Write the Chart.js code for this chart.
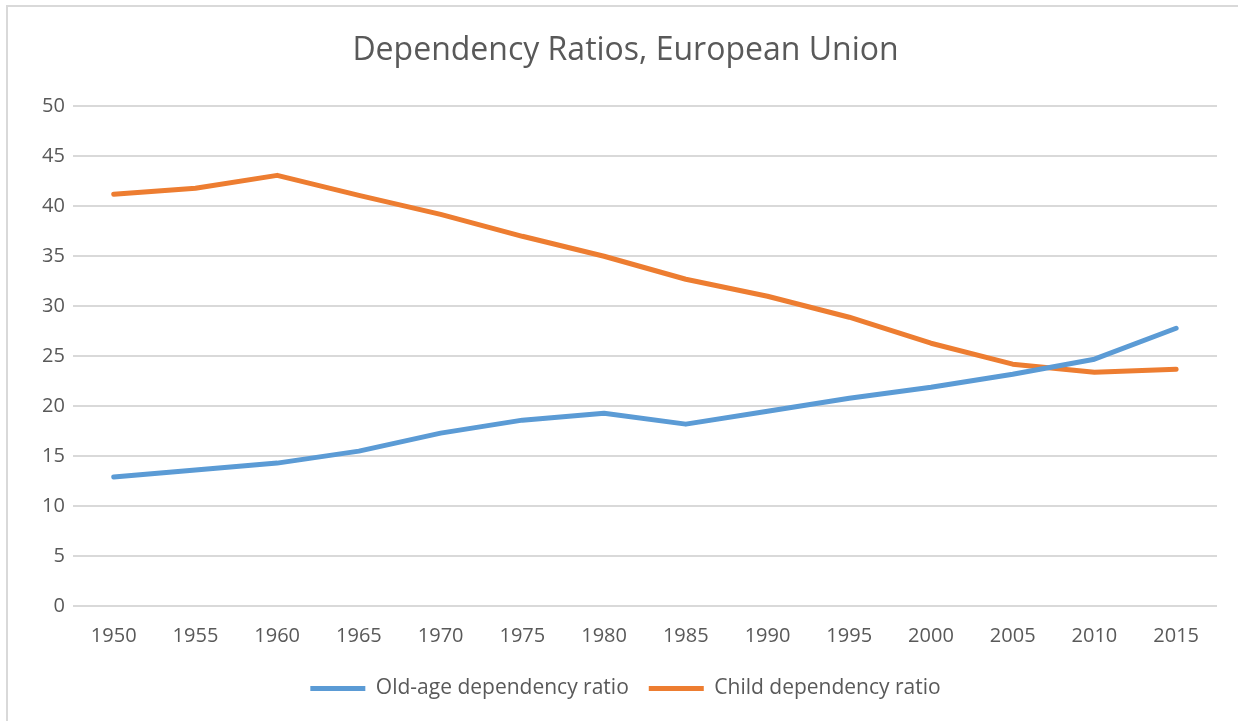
<!DOCTYPE html>
<html>
<head>
<meta charset="utf-8">
<script src="https://cdn.jsdelivr.net/npm/chart.js@4"></script>
<style>
  html, body { margin: 0; padding: 0; background: #fff; }
  #wrap { width: 1238px; height: 721px; }
</style>
</head>
<body>
<div id="wrap"><canvas id="myChart" width="1238" height="721"></canvas></div>
<script>
// years on the category axis
var years = ['1950', '1955', '1960', '1965', '1970', '1975', '1980', '1985', '1990', '1995', '2000', '2005', '2010', '2015'];
// old-age dependency ratio (%)
var oldAge = [12.9, 13.6, 14.3, 15.5, 17.3, 18.6, 19.3, 18.2, 19.5, 20.8, 21.9, 23.2, 24.7, 27.8];
// child dependency ratio (%)
var child = [41.2, 41.8, 43.1, 41.1, 39.2, 37.0, 35.0, 32.7, 31.0, 28.9, 26.3, 24.2, 23.4, 23.7];
var yTicks = [0, 5, 10, 15, 20, 25, 30, 35, 40, 45, 50];

var textColor = '#595959';
var gridColor = '#d9d9d9';

// light frame round the whole chart, like the spreadsheet export
var framePlugin = {
    id: 'frame',
    beforeDraw: function (chart) {
        var c = chart.ctx;
        c.save();
        c.fillStyle = '#fff';
        c.fillRect(0, 0, chart.width, chart.height);
        c.strokeStyle = gridColor;
        c.lineWidth = 2;
        c.strokeRect(7, 6, chart.width + 20, chart.height + 20);
        c.restore();
    }
};

var ctx = document.getElementById('myChart').getContext('2d');
var myChart = new Chart(ctx, {
    type: 'line',
    data: {
        labels: years,
        datasets: [{
            label: 'Old-age dependency ratio',
            data: oldAge,
            borderColor: '#5B9BD5',
            backgroundColor: '#5B9BD5',
            borderWidth: 5,
            borderCapStyle: 'round',
            borderJoinStyle: 'round',
            pointRadius: 0,
            fill: false,
            tension: 0
        }, {
            label: 'Child dependency ratio',
            data: child,
            borderColor: '#ED7D31',
            backgroundColor: '#ED7D31',
            borderWidth: 5,
            borderCapStyle: 'round',
            borderJoinStyle: 'round',
            pointRadius: 0,
            fill: false,
            tension: 0
        }]
    },
    options: {
        responsive: false,
        animation: false,
        layout: {
            padding: { top: 32, left: 34, right: 21, bottom: 12 }
        },
        plugins: {
            title: {
                display: true,
                text: 'Dependency Ratios, European Union',
                color: textColor,
                font: { family: 'Open Sans', size: 32, weight: 'normal' },
                padding: { top: 0, bottom: 36 }
            },
            legend: {
                position: 'bottom',
                labels: {
                    color: textColor,
                    font: { family: 'Open Sans', size: 21 },
                    usePointStyle: true,
                    pointStyle: 'line',
                    pointStyleWidth: 55,
                    boxHeight: 5,
                    padding: 20
                }
            },
            tooltip: { enabled: false }
        },
        scales: {
            x: {
                offset: true,
                grid: { display: false },
                border: { display: false },
                ticks: {
                    color: textColor,
                    font: { family: 'Open Sans', size: 20 },
                    padding: 10,
                    maxRotation: 0
                }
            },
            y: {
                min: 0,
                max: 50,
                afterBuildTicks: function (axis) {
                    axis.ticks = yTicks.map(function (v) { return { value: v }; });
                },
                grid: { color: gridColor, lineWidth: 2, drawTicks: false },
                border: { display: false },
                ticks: {
                    color: textColor,
                    font: { family: 'Open Sans', size: 20 },
                    padding: 8
                }
            }
        }
    },
    plugins: [framePlugin]
});
</script>
</body>
</html>
